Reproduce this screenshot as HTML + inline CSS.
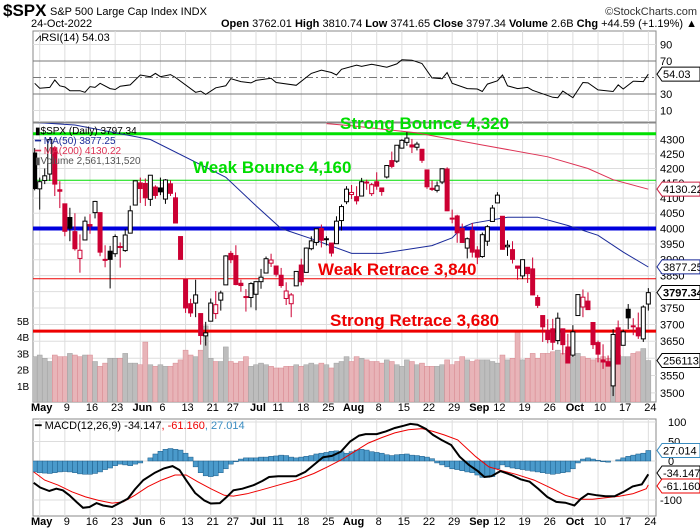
<!DOCTYPE html>
<html><head><meta charset="utf-8"><style>
body{margin:0;background:#fff;}
svg{display:block;font-family:"Liberation Sans",sans-serif;}
</style></head><body>
<svg id="c" width="700" height="530" viewBox="0 0 700 530">
<defs>
<clipPath id="cm"><rect x="33" y="123" width="623" height="279"/></clipPath>
<clipPath id="cr"><rect x="33" y="31" width="623" height="91"/></clipPath>
<clipPath id="cd"><rect x="33" y="419" width="623" height="97"/></clipPath>
</defs>
<g>
<text x="3" y="16" font-size="17" font-weight="bold">$SPX</text>
<text x="50" y="15" font-size="11">S&amp;P 500 Large Cap Index  INDX</text>
<text x="697" y="15" font-size="11" text-anchor="end" fill="#333">©StockCharts.com</text>
<text x="31" y="27" font-size="11">24-Oct-2022</text>
<text x="697" y="27" font-size="11" text-anchor="end"><tspan font-weight="bold">Open</tspan> 3762.01 <tspan font-weight="bold">High</tspan> 3810.74 <tspan font-weight="bold">Low</tspan> 3741.65 <tspan font-weight="bold">Close</tspan> 3797.34 <tspan font-weight="bold">Volume</tspan> 2.6B <tspan font-weight="bold">Chg</tspan> +44.59 (+1.19%) ▲</text>
</g>
<g id="grid"></g>
<g id="layer"></g>
</svg>
<script>
const dateIdx=[0,5,10,15,20,24,29,34,38,43,47,52,57,62,67,72,77,82,87,91,96,101,106,111,116,121];
const dateLbl=["May","9","16","23","Jun","6","13","21","27","Jul","11","18","25","Aug","8","15","22","29","Sep","12","19","26","Oct","10","17","24"];
const priceTicks=[3500,3550,3600,3650,3700,3750,3800,3850,3900,3950,4000,4050,4100,4150,4200,4250,4300];
const rsiTicks=[90,70,30,10];
const macdTicks=[100,50,0,-100];
const volTicks=[1,2,3,4,5];
const opens=[4253,4131,4159,4181,4271,4128,4081,4036,3990,3904,3963,4013,4052,4052,3899,3927,3919,3942,3929,3985,4077,4151,4149,4096,4137,4134,4097,4148,4101,3974,3838,3763,3765,3733,3666,3710,3733,3774,3821,3920,3913,3826,3785,3782,3792,3831,3858,3889,3880,3851,3779,3763,3818,3883,3860,3935,3955,4000,3966,3953,3951,4026,4088,4112,4105,4107,4154,4115,4155,4134,4171,4227,4225,4270,4290,4281,4273,4266,4195,4133,4126,4154,4198,4034,4041,4000,3937,3994,3931,3910,3959,4023,4084,4040,3941,3932,3880,3849,3876,3871,3782,3727,3682,3687,3652,3687,3633,3609,3727,3753,3771,3706,3646,3595,3590,3520,3690,3638,3746,3696,3690,3657,3762];
const highs=[4270,4169,4200,4308,4277,4157,4081,4068,4050,3981,4039,4047,4091,4052,3946,3944,3981,3955,3999,4075,4158,4169,4166,4177,4143,4169,4164,4160,4119,3974,3838,3778,3837,3733,3708,3779,3802,3803,3914,3928,3946,3837,3808,3829,3832,3871,3910,3919,3880,3874,3829,3796,3864,3903,3939,3975,4000,4013,3975,3953,4040,4079,4140,4144,4140,4168,4162,4151,4187,4135,4211,4258,4280,4301,4326,4302,4292,4266,4195,4159,4156,4200,4204,4062,4045,4016,3971,4018,3943,3987,4011,4077,4120,4040,3962,3959,3880,3900,3877,3907,3790,3727,3716,3717,3736,3687,3672,3698,3791,3807,3798,3706,3652,3641,3608,3686,3712,3685,3762,3719,3736,3758,3811];
const lows=[4126,4062,4147,4158,4107,4067,3975,3959,3929,3859,3963,3983,4033,3911,3876,3810,3909,3875,3925,3985,4077,4084,4074,4074,4098,4110,4081,4107,4017,3901,3735,3723,3722,3640,3637,3710,3717,3742,3821,3889,3820,3800,3739,3752,3743,3809,3858,3877,3847,3812,3759,3722,3818,3819,3860,3930,3945,3939,3945,3910,3951,3993,4080,4097,4079,4107,4128,4107,4128,4108,4166,4201,4219,4268,4278,4253,4262,4219,4131,4124,4119,4147,4057,4017,3954,3954,3904,3907,3886,3906,3944,4023,4084,3932,3912,3888,3837,3839,3827,3789,3750,3648,3644,3624,3641,3611,3585,3604,3727,3722,3745,3627,3588,3569,3576,3491,3584,3638,3686,3668,3657,3648,3742];
const closes=[4132,4155,4175,4300,4147,4123,3991,4001,3935,3930,4024,4008,4089,3924,3901,3901,3974,3941,3979,4058,4158,4132,4101,4177,4109,4121,4161,4116,4018,3901,3750,3735,3790,3667,3675,3765,3760,3796,3912,3900,3822,3819,3785,3825,3831,3845,3903,3899,3854,3819,3802,3790,3863,3831,3937,3960,3999,3962,3967,3921,4024,4072,4130,4119,4091,4155,4152,4145,4140,4122,4210,4207,4280,4297,4305,4274,4284,4228,4138,4129,4141,4199,4058,4031,3986,3955,3967,3924,3908,3980,4006,4067,4110,3933,3946,3901,3873,3900,3856,3790,3758,3693,3655,3647,3719,3640,3586,3678,3791,3783,3745,3640,3612,3589,3577,3670,3583,3678,3720,3695,3666,3753,3797];
const volumes=[2.8,2.9,2.7,2.5,2.9,2.8,2.8,3.0,2.9,2.8,2.9,2.9,2.5,2.2,2.4,2.7,2.7,2.7,3.0,2.4,2.4,2.3,3.7,2.3,2.2,2.3,2.2,2.2,2.4,2.6,3.2,2.9,2.8,3.2,4.7,2.7,2.5,2.5,3.4,2.5,2.4,2.5,2.8,2.2,2.3,2.4,2.3,2.2,2.1,2.1,2.2,2.2,2.3,2.2,2.3,2.4,2.3,2.4,2.3,2.1,2.4,2.5,2.8,2.5,2.8,2.7,2.6,2.5,2.5,2.4,2.6,2.5,2.3,2.2,2.6,2.5,2.3,2.4,2.2,2.2,2.2,2.3,2.6,2.3,2.5,2.8,2.6,2.5,2.6,2.6,2.6,2.5,2.4,2.9,2.6,2.7,4.3,2.6,2.7,3.0,2.7,3.0,3.0,3.1,3.2,3.0,3.2,2.8,3.0,2.8,2.7,2.6,2.7,2.8,2.7,3.2,2.9,2.8,2.8,3.0,3.1,3.3,2.56];
const ma50Idx=[-1,7,22,37,43,48,54,62,68,78,82,84,86,93,99,105,111,116,121];
const ma50Val=[4360,4351,4300,4170,4075,4000,3967,3920,3920,3945,3970,4003,4017,4037,4037,4010,3978,3924,3877];
const ma200Idx=[57,62,75,88,101,109,114,121];
const ma200Val=[4356,4348,4323,4281,4240,4200,4162,4130];
const rsiIdx=[-1,0,2,3,4,5,6,8,9,10,11,12,14,15,16,18,20,22,23,24,26,27,31,32,33,35,37,38,40,42,43,46,47,51,54,56,58,59,60,63,64,66,69,71,72,74,76,78,80,81,82,85,87,88,89,91,92,93,95,97,98,102,103,104,106,108,109,111,114,115,116,118,120,121];
const rsiVal=[43,37,38,47,40,38.5,34,34,32,39,38,43,36.5,35.5,39.5,41,53,51,55,51,53.5,50,32,33.5,29.5,37.5,40,48.5,45,43.5,46.5,49,44,40.5,55,59,56,53,60,65,63.5,66,62.5,66.5,71.5,71,67,49.5,48.5,56,43,36.5,36,33,42,46,53,40,36.5,38,34.5,26,25.5,33.5,25.5,44,43.5,35,33,41,36,45.5,45,54.03];
const macdIdx=[-1.2,0.1,1.9,3.3,4.6,5.9,7.3,8.6,9.9,11.3,12.6,14.4,15.7,17.5,18.9,20.6,22.9,24.7,26.4,27.8,29.1,30.9,32.7,34,35.8,37.2,38.5,40.3,42.5,44.3,45.6,47.4,49.2,51,52.8,54.5,56.3,58.1,59.9,61.7,63.5,64.8,67,68.8,70.6,72.4,73.7,75.1,76.8,78.2,80,81.8,83.5,85.3,87.1,88.4,89.8,91.6,93.8,95.6,97.4,99.1,100.9,102.7,104.5,106.3,107.6,109,110.8,112.5,114.3,116.1,117.9,119.7,121];
const macdVal=[-56,-68,-77,-71,-75,-88,-105,-120,-118,-108,-114,-118,-109,-97,-73,-49,-30,-19,-13,-23,-49,-82,-101,-109,-108,-92,-75,-71,-62,-51,-41,-39,-39,-39,-28,-10,9.5,13,24,50,65,69,69,76,84.5,90.5,95,93,82,67,53,41,11,-10,-26,-41,-39,-26,-36,-47,-53,-71,-92,-105,-107,-114,-97,-84,-88,-90.5,-90.5,-79,-65,-60,-34.1];
const sigIdx=[-1.2,1,3.7,6.4,9.1,11.7,14.4,16.6,18.9,21.5,24.2,26.9,29.1,31.4,34,36.7,38.5,41.2,43.8,47.4,51,54.5,57.2,59.9,62.6,65.3,68,70.6,73.3,76,78.2,80.4,83.1,86.7,89.3,92,94.7,98.3,101.9,104.5,107.2,109.9,112.5,115.2,117.9,120.6,121];
const sigVal=[-28,-49,-62,-79,-92,-101,-108,-105,-88,-66,-49,-36,-36,-53,-71,-88,-90,-84,-75,-62,-49,-32,-15,2.6,24,46,60,72,80,83,76,67,54,11,-15,-25,-34,-49,-71,-88,-98,-98,-94,-90.5,-84,-71,-61.2];
const histVal=[-28,-30,-31,-32,-30,-28,-27,-28,-30,-33,-34,-34,-32,-28,-22,-18,-12,-8,-10,-12,-8,-5,0,8,18,25,30,32,30,28,20,10,-15,-30,-38,-40,-38,-30,-20,-8,-2,5,8,8,8,10,10,12,13,15,14,10,8,10,12,14,18,20,22,25,26,24,20,24,28,30,28,24,22,20,16,14,16,17,18,15,14,12,10,6,-5,-10,-15,-20,-22,-25,-28,-30,-36,-42,-42,-40,-20,-10,-15,-18,-20,-22,-24,-26,-28,-30,-32,-34,-32,-30,-28,-20,-5,5,8,5,2,-2,-3,0,3,8,12,15,18,20,27];

const NS="http://www.w3.org/2000/svg";
const X0=39.7,DX=5.03,L=33,R=656;
const x=i=>X0+DX*i;
const py=p=>139.5+1231*(Math.log(4300)-Math.log(p));
const ry=v=>61+(70-v)*0.825;
const my=v=>461-0.39*v;
const vy=b=>402-16.2*b;
const grid=document.getElementById('grid'),layer=document.getElementById('layer');
function el(tag,attrs,parent,txt){const e=document.createElementNS(NS,tag);for(const k in attrs)e.setAttribute(k,attrs[k]);if(txt!==undefined)e.textContent=txt;(parent||layer).appendChild(e);return e;}

[[31,122],[123,402],[419,516]].forEach(([t,b],k)=>{
 const r=el('rect',{x:L,y:t,width:R-L,height:b-t,fill:'#fff',stroke:'#888','stroke-width':1},grid);
 
 
});
dateIdx.forEach((d,k)=>{
 [[31,122],[123,402],[419,516]].forEach(([t,b])=>{el('line',{x1:x(d),x2:x(d),y1:t,y2:b,stroke:'#ddd'},grid);});
 const bold=isNaN(+dateLbl[k]);
 [411,525].forEach(yy=>{
  const t=el('text',{x:x(d)+2,y:yy,'font-size':11,'text-anchor':'middle','font-weight':bold?'bold':'normal'},layer,dateLbl[k]);
  
  
 });
});
priceTicks.forEach(p=>{
 el('line',{x1:L,x2:R,y1:py(p),y2:py(p),stroke:'#ddd'},grid);
 const t=el('text',{x:660,y:py(p)+4,'font-size':11},layer,p);
 
 
});
volTicks.forEach(b=>{
 const t=el('text',{x:17,y:vy(b)+4,'font-size':10},layer,b+'B');
 
 
});
rsiTicks.forEach(v=>{
 el('line',{x1:L,x2:R,y1:ry(v),y2:ry(v),stroke:(v==70||v==30)?'#777':'#ddd'},grid);
 const t=el('text',{x:660,y:ry(v)+4,'font-size':11},layer,v);
 
 
});
el('line',{x1:L,x2:R,y1:ry(50),y2:ry(50),stroke:'#777','stroke-dasharray':'8,3,2,3'},grid);
macdTicks.forEach(v=>{
 el('line',{x1:L,x2:R,y1:my(v),y2:my(v),stroke:'#ddd'},grid);
 const t=el('text',{x:v<0?660:668,y:my(v)+4,'font-size':11},layer,v);
 
 
});

const gm=el('g',{'clip-path':'url(#cm)'});


volumes.forEach((v,k)=>{
 const i=k-1,down=k>0&&closes[k]<closes[k-1];
 const r=el('rect',{x:x(i)-2.5,y:vy(v),width:5,height:402-vy(v),fill:down?'#e8b4b8':'#bdbdbd',stroke:down?'#d88890':'#a0a0a0','stroke-width':0.5},gm);
 
 
});
const levels=[[4320,'#00e000',3],[4160,'#00dd00',1],[4000,'#0000dd',4],[3840,'#ee0000',1],[3680,'#ee0000',3]];
levels.forEach(([p,c,w])=>{
 const l=el('line',{x1:L,x2:R,y1:py(p),y2:py(p),stroke:c,'stroke-width':w},gm);
 
 
});
function path(ix,vals,fy){return ix.map((d,k)=>(k?'L':'M')+x(d).toFixed(1)+','+fy(vals[k]).toFixed(1)).join('');}
const m50=el('path',{d:path(ma50Idx,ma50Val,py),fill:'none',stroke:'#1a2a99','stroke-width':1},gm);


const m200=el('path',{d:path(ma200Idx,ma200Val,py),fill:'none',stroke:'#dd3355','stroke-width':1},gm);


closes.forEach((c,k)=>{
 const i=k-1,o=opens[k],h=highs[k],lo=lows[k];
 const col=(k>0&&c<closes[k-1])?'#cc0033':'#000';
 const g=el('g',{},gm);
 
 
 el('line',{x1:x(i),x2:x(i),y1:py(h),y2:py(lo),stroke:col,'stroke-width':1},g);
 const top=py(Math.max(o,c)),bot=py(Math.min(o,c));
 el('rect',{x:x(i)-2,y:top,width:4,height:Math.max(bot-top,1),fill:c<o?col:'#fff',stroke:col,'stroke-width':1},g);
});
[["Strong Bounce 4,320",340,129,'#00dd00'],["Weak Bounce 4,160",193,173,'#00dd00'],["Weak Retrace 3,840",318,275,'#ee0000'],["Strong Retrace 3,680",330,326,'#ee0000']].forEach(([t,xx,yy,c])=>{
 const e=el('text',{x:xx,y:yy,'font-size':17,'font-weight':'bold',fill:c},layer,t);
 
 
});
[["▮$SPX (Daily) 3797.34",'#000',134],["━ MA(50) 3877.25",'#1a2a99',144],["━ MA(200) 4130.22",'#dd3355',154],["▮Volume 2,561,131,520",'#555',164]].forEach(([t,c,yy])=>{
 const e=el('text',{x:35,y:yy,'font-size':10,fill:c},layer,t);
 
 
});

const gr=el('g',{'clip-path':'url(#cr)'});
const rl=el('path',{d:path(rsiIdx,rsiVal,ry),fill:'none',stroke:'#000','stroke-width':1},gr);


const rt=el('text',{x:35,y:41,'font-size':11},layer,"⩘RSI(14) 54.03");



const gd=el('g',{'clip-path':'url(#cd)'});
histVal.forEach((v,k)=>{
 const i=k-1;
 const r=el('rect',{x:x(i)-2.5,y:Math.min(my(v),my(0)),width:5,height:Math.abs(my(v)-my(0)),fill:'#4a9acb',stroke:'#1d5c88','stroke-width':0.5},gd);
 
 
});
const sl=el('path',{d:path(sigIdx,sigVal,my),fill:'none',stroke:'#ee0000','stroke-width':1},gd);


const ml=el('path',{d:path(macdIdx,macdVal,my),fill:'none',stroke:'#000','stroke-width':2},gd);


const mt=el('text',{x:35,y:429,'font-size':11},layer);


el('tspan',{},mt,"━ MACD(12,26,9) -34.147");
el('tspan',{fill:'#ee0000'},mt,", -61.160");
el('tspan',{fill:'#3a8cc0'},mt,", 27.014");

[["54.03",ry(54.03),'#000',false],["4130.22",py(4130.22),'#cc2244',false],["3877.25",py(3877.25),'#1a2a99',false],["3797.34",py(3797.34),'#000',true],["2561131",vy(2.56),'#000',false],["27.014",my(27),'#3a8cc0',false],["-34.147",473,'#000',false],["-61.160",486,'#ee0000',false]].forEach(([t,yy,c,b])=>{
 const g=el('g',{});
 
 
 el('path',{d:`M657,${yy}L662,${yy-7}L700,${yy-7}L700,${yy+7}L662,${yy+7}Z`,fill:'#fff',stroke:c,'stroke-width':1},g);
 el('text',{x:663,y:yy+4,'font-size':11,'font-weight':b?'bold':'normal'},g,t);
});
</script>
</body></html>
